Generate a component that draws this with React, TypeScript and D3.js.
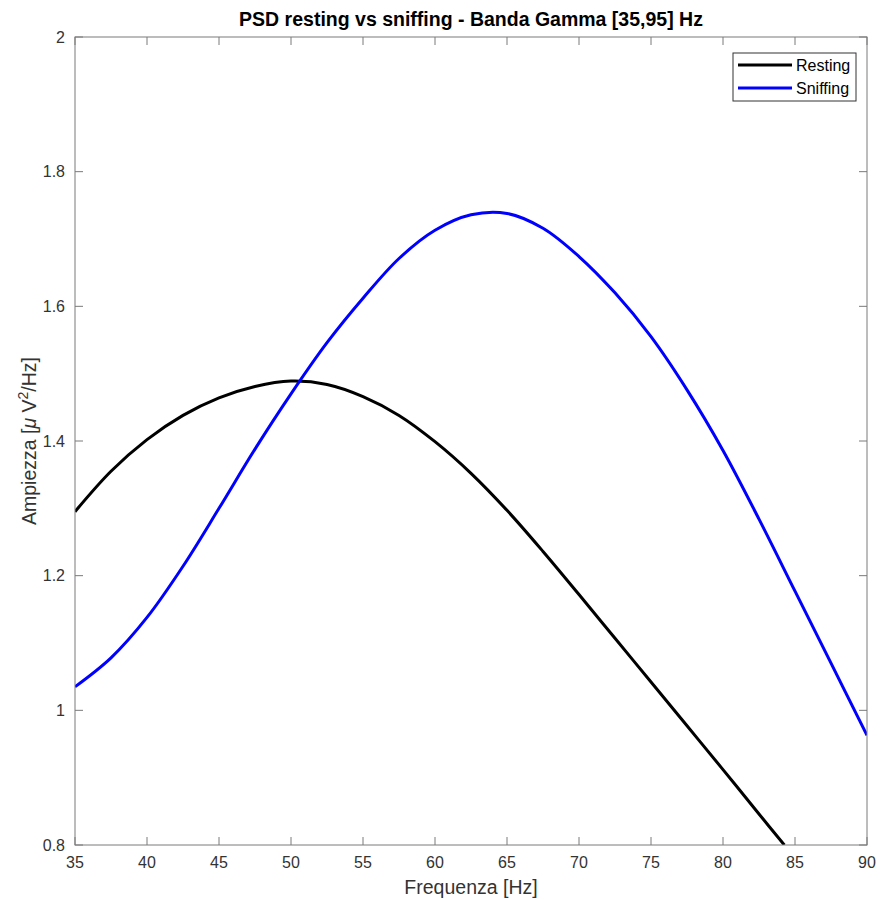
import React from "react";
import * as d3 from "d3";

// Frequency samples (Hz) and PSD amplitudes (µV²/Hz)
const restingFreq = [35, 37.5, 40, 42.5, 45, 47.5, 50, 52.5, 55, 57.5, 60, 62.5, 65, 67.5, 70, 72.5, 75, 77.5, 80, 82.5, 84.26];
const restingPsd = [1.295, 1.355, 1.402, 1.438, 1.464, 1.481, 1.489, 1.484, 1.466, 1.438, 1.399, 1.352, 1.297, 1.236, 1.172, 1.107, 1.042, 0.977, 0.912, 0.846, 0.8];

const sniffingFreq = [35, 37.5, 40, 42.5, 45, 47.5, 50, 52.5, 55, 57.5, 60, 62.5, 65, 67.5, 70, 72.5, 75, 77.5, 80, 82.5, 85, 87.5, 90];
const sniffingPsd = [1.035, 1.078, 1.138, 1.214, 1.3, 1.388, 1.47, 1.546, 1.612, 1.671, 1.713, 1.736, 1.738, 1.716, 1.674, 1.62, 1.555, 1.476, 1.386, 1.284, 1.177, 1.07, 0.963];

const xTicks = [35, 40, 45, 50, 55, 60, 65, 70, 75, 80, 85, 90];
const yTicks = [0.8, 1, 1.2, 1.4, 1.6, 1.8, 2];

const seriesNames = ["Resting", "Sniffing"];
const seriesColors = ["#000000", "#0000ff"];

const W = 880;
const H = 900;
const margin = { left: 75, right: 13, top: 37, bottom: 55 };
const font = "'Liberation Sans', Arial, Helvetica, sans-serif";

export default function App() {
  const x = d3.scaleLinear().domain([35, 90]).range([margin.left, W - margin.right]);
  const y = d3.scaleLinear().domain([0.8, 2]).range([H - margin.bottom, margin.top]);

  const line = d3
    .line<[number, number]>()
    .x((d) => x(d[0]))
    .y((d) => y(d[1]))
    .curve(d3.curveCatmullRom.alpha(0.5));

  const series = [
    restingFreq.map((f, i) => [f, restingPsd[i]] as [number, number]),
    sniffingFreq.map((f, i) => [f, sniffingPsd[i]] as [number, number]),
  ];

  const x0 = x.range()[0];
  const x1 = x.range()[1];
  const y0 = y.range()[0];
  const y1 = y.range()[1];
  const tick = 8;
  const axisColor = "#7a7a7a";
  const textColor = "#333333";

  const legend = { x: 733, y: 53, w: 123, h: 48 };

  return (
    <svg
      width={W}
      height={H}
      style={{ position: "absolute", left: 0, top: 0, background: "#fff" }}
      fontFamily={font}
    >
      <rect x={0} y={0} width={W} height={H} fill="#fff" />
      <defs>
        <clipPath id="plot-area">
          <rect x={x0} y={y1} width={x1 - x0} height={y0 - y1} />
        </clipPath>
      </defs>

      {/* data lines */}
      <g clipPath="url(#plot-area)">
        {series.map((s, i) => (
          <path
            key={seriesNames[i]}
            d={line(s) ?? ""}
            fill="none"
            stroke={seriesColors[i]}
            strokeWidth={3}
            strokeLinejoin="round"
          />
        ))}
      </g>

      {/* axes box */}
      <rect x={x0} y={y1} width={x1 - x0} height={y0 - y1} fill="none" stroke={axisColor} strokeWidth={1} />

      {/* x ticks, inward on bottom and top */}
      {xTicks.map((t) => (
        <g key={"x" + t}>
          <line x1={x(t)} x2={x(t)} y1={y0} y2={y0 - tick} stroke={axisColor} />
          <line x1={x(t)} x2={x(t)} y1={y1} y2={y1 + tick} stroke={axisColor} />
          <text x={x(t)} y={y0 + 23} textAnchor="middle" fontSize={16} fill={textColor}>
            {t}
          </text>
        </g>
      ))}

      {/* y ticks, inward on left and right */}
      {yTicks.map((t) => (
        <g key={"y" + t}>
          <line x1={x0} x2={x0 + tick} y1={y(t)} y2={y(t)} stroke={axisColor} />
          <line x1={x1} x2={x1 - tick} y1={y(t)} y2={y(t)} stroke={axisColor} />
          <text x={x0 - 10} y={y(t)} dy="0.35em" textAnchor="end" fontSize={16} fill={textColor}>
            {d3.format("~g")(t)}
          </text>
        </g>
      ))}

      {/* title */}
      <text x={(x0 + x1) / 2} y={26} textAnchor="middle" fontSize={19.5} fontWeight="bold" fill="#000">
        PSD resting vs sniffing - Banda Gamma [35,95] Hz
      </text>

      {/* axis labels */}
      <text x={(x0 + x1) / 2} y={H - 6} textAnchor="middle" fontSize={19.5} fill={textColor}>
        Frequenza [Hz]
      </text>
      <text
        transform={`translate(36, ${(y0 + y1) / 2}) rotate(-90)`}
        textAnchor="middle"
        fontSize={19.5}
        fill={textColor}
      >
        Ampiezza [<tspan fontStyle="italic">μ</tspan> V<tspan fontSize={14} dy={-8}>2</tspan>
        <tspan dy={8}>/Hz]</tspan>
      </text>

      {/* legend */}
      <rect x={legend.x} y={legend.y} width={legend.w} height={legend.h} fill="#fff" stroke="#333" strokeWidth={1} />
      {seriesNames.map((name, i) => {
        const cy = legend.y + 12 + i * 23;
        return (
          <g key={"leg" + name}>
            <line x1={legend.x + 5} x2={legend.x + 59} y1={cy} y2={cy} stroke={seriesColors[i]} strokeWidth={3} />
            <text x={legend.x + 63} y={cy} dy="0.35em" fontSize={16} fill="#000">
              {name}
            </text>
          </g>
        );
      })}
    </svg>
  );
}
